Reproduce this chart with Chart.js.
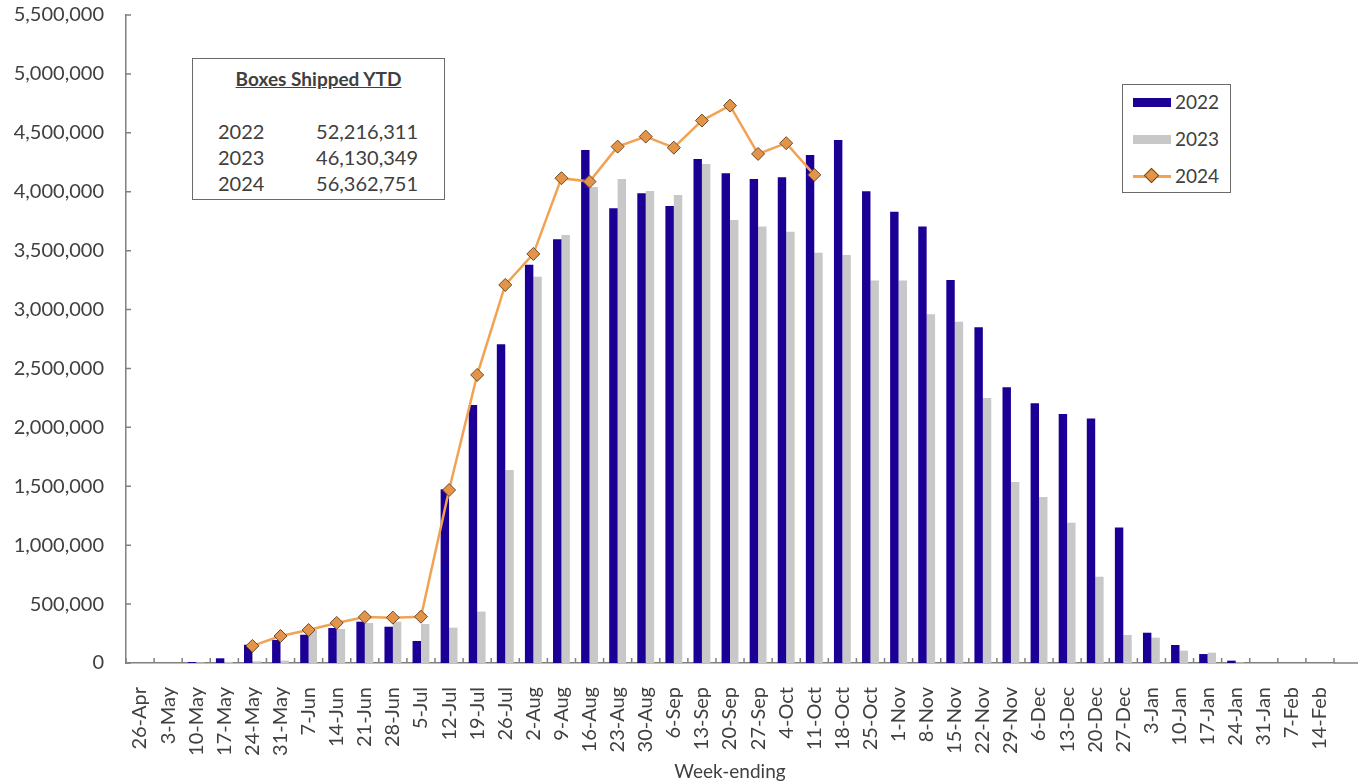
<!DOCTYPE html>
<html>
<head>
<meta charset="utf-8">
<script src="https://cdn.jsdelivr.net/npm/chart.js@4"></script>
<style>
    body { margin: 0; background: #fff; font-family: Lato, "Open Sans", sans-serif; color: #404040; }
    #wrap { position: relative; width: 1362px; height: 783px; }
    .box { position: absolute; border: 1.5px solid #6a6a6a; background: #fff; box-sizing: border-box; }
    #ytd { left: 192px; top: 58px; width: 253px; height: 142px; }
    #ytd .title { position: absolute; left: 0; right: 0; top: 8px; text-align: center; font-weight: bold; font-size: 19px; text-decoration: underline; }
    #ytd .row { position: absolute; left: 25px; width: 200px; font-size: 20px; line-height: 24px; }
    #ytd .row span:last-child { float: right; }
    #legend { left: 1122px; top: 84px; width: 109px; height: 109px; }
    #legend .item { position: absolute; left: 10px; height: 24px; font-size: 19px; line-height: 24px; }
    #legend .sw { position: absolute; left: 0; top: 8px; width: 38px; height: 9px; }
    #legend .lab { position: absolute; left: 42px; top: 0; }
</style>
</head>
<body>
<div id="wrap">
    <canvas id="chart-boxes"></canvas>
    <div class="box" id="ytd">
        <div class="title">Boxes Shipped YTD</div>
    </div>
    <div class="box" id="legend"></div>
</div>
<script>
// Semanas (week-ending) e caixas embarcadas por ano
const semanas = ['26-Apr', '3-May', '10-May', '17-May', '24-May', '31-May', '7-Jun', '14-Jun', '21-Jun', '28-Jun',
    '5-Jul', '12-Jul', '19-Jul', '26-Jul', '2-Aug', '9-Aug', '16-Aug', '23-Aug', '30-Aug', '6-Sep',
    '13-Sep', '20-Sep', '27-Sep', '4-Oct', '11-Oct', '18-Oct', '25-Oct', '1-Nov', '8-Nov', '15-Nov',
    '22-Nov', '29-Nov', '6-Dec', '13-Dec', '20-Dec', '27-Dec', '3-Jan', '10-Jan', '17-Jan', '24-Jan',
    '31-Jan', '7-Feb', '14-Feb'];

const caixas2022 = [0, 0, 8000, 40000, 155000, 195000, 240000, 297000, 351000, 308000,
    187000, 1475000, 2190000, 2705000, 3380000, 3597000, 4355000, 3860000, 3987000, 3879000,
    4278000, 4157000, 4109000, 4123000, 4312000, 4440000, 4005000, 3830000, 3705000, 3250000,
    2850000, 2340000, 2205000, 2114000, 2075000, 1150000, 257000, 153000, 76000, 20000,
    0, 0, 0];

const caixas2023 = [0, 0, 5000, 10000, 15000, 20000, 280000, 289000, 340000, 351000,
    331000, 300000, 436000, 1638000, 3279000, 3633000, 4040000, 4109000, 4007000, 3973000,
    4236000, 3761000, 3704000, 3661000, 3483000, 3464000, 3246000, 3246000, 2960000, 2897000,
    2250000, 1537000, 1409000, 1190000, 733000, 238000, 215000, 105000, 88000, 5000,
    0, 0, 0];

const caixas2024 = [null, null, null, null, 145000, 229000, 280000, 340000, 390000, 385000,
    393000, 1468000, 2445000, 3209000, 3472000, 4115000, 4086000, 4383000, 4468000, 4374000,
    4604000, 4731000, 4321000, 4412000, 4143000, null, null, null, null, null,
    null, null, null, null, null, null, null, null, null, null,
    null, null, null];

const anosYtd = ['2022', '2023', '2024'];
const totaisYtd = ['52,216,311', '46,130,349', '56,362,751'];

const corAzul = '#1c0096';
const corCinza = '#c8c8c8';
const corLaranja = '#f2a253';
const corTexto = '#404040';
const corEixo = '#808080';

// Quadro "Boxes Shipped YTD"
const ytd = document.getElementById('ytd');
anosYtd.forEach((ano, i) => {
    const row = document.createElement('div');
    row.className = 'row';
    row.style.top = (60 + i * 26) + 'px';
    row.innerHTML = `<span>${ano}</span><span>${totaisYtd[i]}</span>`;
    ytd.appendChild(row);
});

// Legenda
const legenda = document.getElementById('legend');
const itensLegenda = [
    { label: '2022', html: `<div class="sw" style="background:${corAzul}"></div>` },
    { label: '2023', html: `<div class="sw" style="background:${corCinza}"></div>` },
    { label: '2024', html: `<div class="sw" style="top:11px;height:3px;background:${corLaranja}"></div>
        <div style="position:absolute;left:13px;top:6px;width:9px;height:9px;background:#e39448;border:1px solid #6b4a2a;transform:rotate(45deg)"></div>` }
];
itensLegenda.forEach((it, i) => {
    const d = document.createElement('div');
    d.className = 'item';
    d.style.top = (5 + i * 37) + 'px';
    d.innerHTML = it.html + `<div class="lab">${it.label}</div>`;
    legenda.appendChild(d);
});

// Marcas de escala para dentro da área do gráfico
const ticksInternos = {
    id: 'ticksInternos',
    afterDraw(chart) {
        const { ctx, chartArea, scales } = chart;
        const x = scales.x, y = scales.y;
        ctx.save();
        ctx.strokeStyle = corEixo;
        ctx.lineWidth = 1.5;
        ctx.beginPath();
        for (let i = 0; i <= semanas.length; i++) {
            const px = x.getPixelForValue(i - 0.5);
            ctx.moveTo(px, chartArea.bottom);
            ctx.lineTo(px, chartArea.bottom - 5);
        }
        y.ticks.forEach(t => {
            const py = y.getPixelForValue(t.value);
            ctx.moveTo(chartArea.left, py);
            ctx.lineTo(chartArea.left + 5, py);
        });
        ctx.moveTo(chartArea.right, chartArea.bottom);
        ctx.lineTo(chartArea.right + 24, chartArea.bottom);
        ctx.stroke();
        ctx.restore();
    }
};

const fonte = { family: 'Lato, "Open Sans", sans-serif', size: 20 };

new Chart(document.getElementById('chart-boxes'), {
    type: 'bar',
    data: {
        labels: semanas,
        datasets: [
            {
                type: 'line',
                label: '2024',
                data: caixas2024,
                borderColor: corLaranja,
                borderWidth: 2.5,
                pointStyle: 'rectRot',
                pointRadius: 6.5,
                pointBackgroundColor: '#e39448',
                pointBorderColor: '#6b4a2a',
                pointBorderWidth: 1,
                tension: 0,
                order: 0
            },
            {
                label: '2022',
                data: caixas2022,
                backgroundColor: corAzul,
                categoryPercentage: 0.6,
                barPercentage: 1.0,
                order: 1
            },
            {
                label: '2023',
                data: caixas2023,
                backgroundColor: corCinza,
                categoryPercentage: 0.6,
                barPercentage: 1.0,
                order: 1
            }
        ]
    },
    options: {
        responsive: true,
        maintainAspectRatio: false,
        animation: false,
        layout: { padding: { top: 0, right: 28, left: 0, bottom: 0 } },
        plugins: {
            legend: { display: false },
            tooltip: { enabled: false }
        },
        scales: {
            x: {
                grid: { display: false },
                border: { display: true, color: corEixo, width: 1.5 },
                ticks: {
                    color: corTexto,
                    font: fonte,
                    minRotation: 90,
                    maxRotation: 90,
                    autoSkip: false,
                    padding: 16
                },
                title: {
                    display: true,
                    text: 'Week-ending',
                    color: corTexto,
                    font: { family: fonte.family, size: 19 },
                    padding: { top: 0, bottom: 0 }
                },
                afterFit: s => { s.height = 120; }
            },
            y: {
                min: 0,
                max: 5500000,
                grid: { display: false, drawTicks: false },
                border: { display: true, color: corEixo, width: 1.5 },
                ticks: {
                    stepSize: 500000,
                    color: corTexto,
                    font: fonte,
                    padding: 22,
                    callback: v => v.toLocaleString('en-US')
                },
                afterFit: s => { s.width = 126; s.paddingTop = 15; }
            }
        }
    },
    plugins: [ticksInternos]
});
</script>
</body>
</html>
